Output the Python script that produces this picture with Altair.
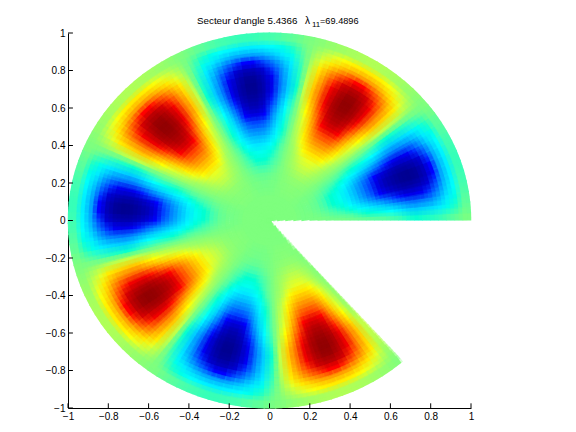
import math
import altair as alt
import pandas as pd

TITLE_MAIN = ["Secteur d'angle 5.4366"]
TITLE_LAMBDA = ["\u03bb"]
TITLE_SUB = ["11"]
TITLE_VALUE = ["=69.4896"]
SECTOR_DEG = 311.49
TICKS = [-1, -0.8, -0.6, -0.4, -0.2, 0, 0.2, 0.4, 0.6, 0.8, 1]

RADII = [0.02, 0.06, 0.10, 0.14, 0.18, 0.22, 0.26, 0.30, 0.34, 0.38, 0.42, 0.46, 0.50,
         0.54, 0.58, 0.62, 0.66, 0.70, 0.74, 0.78, 0.82, 0.86, 0.90, 0.94, 0.98]

r02 = [0] * 16
r06 = [0] * 16
r10 = [0] * 16
r14 = [0, 0, 0, 0, 0, 0, 0, 0, 0, 0, 0, 0, 0, 0, 0, 0]
r18 = [-1, -1, 1, 1, -1, -1, 1, 1, -1, -1, 1, 1, -1, -1, 1, 1]
r22 = [-1,-1,-2,-2,-1,-1, 1,1,2,2,1,1, -1,-1,-2,-2,-1,-1, 1,1,2,2,1,1,
       -1,-1,-2,-2,-1,-1, 1,1,2,2,1,1, -1,-1,-2,-2,-1,-1, 1,1,2,2,1,1]
r26 = [-1,-3,-4,-4,-3,-1, 1,3,4,4,3,1, -1,-3,-4,-4,-3,-1, 1,3,4,4,3,1,
       -1,-3,-4,-4,-3,-1, 1,3,4,4,3,1, -1,-3,-4,-4,-3,-1, 1,3,4,4,3,1]
r30 = [-2,-6,-9,-9,-6,-2, 2,6,9,9,6,2, -2,-6,-9,-9,-6,-2, 2,6,9,9,6,2,
       -2,-6,-9,-9,-6,-2, 2,6,9,9,6,2, -2,-6,-9,-9,-6,-2, 2,6,9,9,6,2]
r34 = [-2,-5,-8,-11,-14,-15,-15,-14,-11,-8,-5,-2, 2,5,8,11,14,15,15,14,11,8,5,2,
       -2,-5,-8,-11,-14,-15,-15,-14,-11,-8,-5,-2, 2,5,8,11,14,15,15,14,11,8,5,2,
       -2,-5,-8,-11,-14,-15,-15,-14,-11,-8,-5,-2, 2,5,8,11,14,15,15,14,11,8,5,2,
       -2,-5,-8,-11,-14,-15,-15,-14,-11,-8,-5,-2, 2,5,8,11,14,15,15,14,11,8,5,2]
r38 = [-2,-6,-11,-16,-19,-21,-21,-19,-16,-11,-6,-2, 2,6,11,16,19,21,21,19,16,11,6,2,
       -2,-6,-11,-16,-19,-21,-21,-19,-16,-11,-6,-2, 2,6,11,16,19,21,21,19,16,11,6,2,
       -2,-6,-11,-16,-19,-21,-21,-19,-16,-11,-6,-2, 2,6,11,16,19,21,21,19,16,11,6,2,
       -2,-6,-11,-16,-19,-21,-21,-19,-16,-11,-6,-2, 2,6,11,16,19,21,21,19,16,11,6,2]
r42 = [-3,-8,-16,-24,-30,-32,-32,-30,-24,-16,-8,-3, 3,8,16,24,30,32,32,30,24,16,8,3,
       -3,-8,-16,-24,-30,-32,-32,-30,-24,-16,-8,-3, 3,8,16,24,30,32,32,30,24,16,8,3,
       -3,-8,-16,-24,-30,-32,-32,-30,-24,-16,-8,-3, 3,8,16,24,30,32,32,30,24,16,8,3,
       -3,-8,-16,-24,-30,-32,-32,-30,-24,-16,-8,-3, 3,8,16,24,30,32,32,30,24,16,8,3]
r46 = [-4,-12,-23,-34,-42,-45,-45,-42,-34,-23,-12,-4, 4,12,23,34,42,45,45,42,34,23,12,4,
       -4,-12,-23,-34,-42,-45,-45,-42,-34,-23,-12,-4, 4,12,23,34,42,45,45,42,34,23,12,4,
       -4,-12,-23,-34,-42,-45,-45,-42,-34,-23,-12,-4, 4,12,23,34,42,45,45,42,34,23,12,4,
       -4,-12,-23,-34,-42,-45,-45,-42,-34,-23,-12,-4, 4,12,23,34,42,45,45,42,34,23,12,4]
r50 = [-5,-15,-29,-44,-55,-58,-58,-55,-44,-29,-15,-5, 5,15,29,44,55,58,58,55,44,29,15,5,
       -5,-15,-29,-44,-55,-58,-58,-55,-44,-29,-15,-5, 5,15,29,44,55,58,58,55,44,29,15,5,
       -5,-15,-29,-44,-55,-58,-58,-55,-44,-29,-15,-5, 5,15,29,44,55,58,58,55,44,29,15,5,
       -5,-15,-29,-44,-55,-58,-58,-55,-44,-29,-15,-5, 5,15,29,44,55,58,58,55,44,29,15,5]
r54 = [-6,-18,-35,-53,-66,-70,-70,-66,-53,-35,-18,-6, 6,18,35,53,66,70,70,66,53,35,18,6,
       -6,-18,-35,-53,-66,-70,-70,-66,-53,-35,-18,-6, 6,18,35,53,66,70,70,66,53,35,18,6,
       -6,-18,-35,-53,-66,-70,-70,-66,-53,-35,-18,-6, 6,18,35,53,66,70,70,66,53,35,18,6,
       -6,-18,-35,-53,-66,-70,-70,-66,-53,-35,-18,-6, 6,18,35,53,66,70,70,66,53,35,18,6]
r58 = [-6,-21,-40,-61,-75,-80,-80,-75,-61,-40,-21,-6, 6,21,40,61,75,80,80,75,61,40,21,6,
       -6,-21,-40,-61,-75,-80,-80,-75,-61,-40,-21,-6, 6,21,40,61,75,80,80,75,61,40,21,6,
       -6,-21,-40,-61,-75,-80,-80,-75,-61,-40,-21,-6, 6,21,40,61,75,80,80,75,61,40,21,6,
       -6,-21,-40,-61,-75,-80,-80,-75,-61,-40,-21,-6, 6,21,40,61,75,80,80,75,61,40,21,6]
r62 = [-8,-25,-47,-68,-82,-88,-88,-82,-68,-47,-25,-8, 8,25,47,68,82,88,88,82,68,47,25,8,
       -8,-25,-47,-68,-82,-88,-88,-82,-68,-47,-25,-8, 8,25,47,68,82,88,88,82,68,47,25,8,
       -8,-25,-47,-68,-82,-88,-88,-82,-68,-47,-25,-8, 8,25,47,68,82,88,88,82,68,47,25,8,
       -8,-25,-47,-68,-82,-88,-88,-82,-68,-47,-25,-8, 8,25,47,68,82,88,88,82,68,47,25,8]
r66 = [-10,-31,-54,-74,-87,-92,-92,-87,-74,-54,-31,-10, 10,31,54,74,87,92,92,87,74,54,31,10,
       -10,-31,-54,-74,-87,-92,-92,-87,-74,-54,-31,-10, 10,31,54,74,87,92,92,87,74,54,31,10,
       -10,-31,-54,-74,-87,-92,-92,-87,-74,-54,-31,-10, 10,31,54,74,87,92,92,87,74,54,31,10,
       -10,-31,-54,-74,-87,-92,-92,-87,-74,-54,-31,-10, 10,31,54,74,87,92,92,87,74,54,31,10]
r70 = [-13,-38,-60,-78,-90,-95,-95,-90,-78,-60,-38,-13, 13,38,60,78,90,95,95,90,78,60,38,13,
       -13,-38,-60,-78,-90,-95,-95,-90,-78,-60,-38,-13, 13,38,60,78,90,95,95,90,78,60,38,13,
       -13,-38,-60,-78,-90,-95,-95,-90,-78,-60,-38,-13, 13,38,60,78,90,95,95,90,78,60,38,13,
       -13,-38,-60,-78,-90,-95,-95,-90,-78,-60,-38,-13, 13,38,60,78,90,95,95,90,78,60,38,13]
r74 = [-14,-40,-62,-79,-90,-96,-96,-90,-79,-62,-40,-14, 14,40,62,79,90,96,96,90,79,62,40,14,
       -14,-40,-62,-79,-90,-96,-96,-90,-79,-62,-40,-14, 14,40,62,79,90,96,96,90,79,62,40,14,
       -14,-40,-62,-79,-90,-96,-96,-90,-79,-62,-40,-14, 14,40,62,79,90,96,96,90,79,62,40,14,
       -14,-40,-62,-79,-90,-96,-96,-90,-79,-62,-40,-14, 14,40,62,79,90,96,96,90,79,62,40,14]
r78 = [-13,-38,-60,-77,-88,-94,-94,-88,-77,-60,-38,-13, 13,38,60,77,88,94,94,88,77,60,38,13,
       -13,-38,-60,-77,-88,-94,-94,-88,-77,-60,-38,-13, 13,38,60,77,88,94,94,88,77,60,38,13,
       -13,-38,-60,-77,-88,-94,-94,-88,-77,-60,-38,-13, 13,38,60,77,88,94,94,88,77,60,38,13,
       -13,-38,-60,-77,-88,-94,-94,-88,-77,-60,-38,-13, 13,38,60,77,88,94,94,88,77,60,38,13]
r82 = [-12,-35,-56,-72,-83,-88,-88,-83,-72,-56,-35,-12, 12,35,56,72,83,88,88,83,72,56,35,12,
       -12,-35,-56,-72,-83,-88,-88,-83,-72,-56,-35,-12, 12,35,56,72,83,88,88,83,72,56,35,12,
       -12,-35,-56,-72,-83,-88,-88,-83,-72,-56,-35,-12, 12,35,56,72,83,88,88,83,72,56,35,12,
       -12,-35,-56,-72,-83,-88,-88,-83,-72,-56,-35,-12, 12,35,56,72,83,88,88,83,72,56,35,12]
r86 = [-10,-30,-46,-60,-70,-75,-75,-70,-60,-46,-30,-10, 10,30,46,60,70,75,75,70,60,46,30,10,
       -10,-30,-46,-60,-70,-75,-75,-70,-60,-46,-30,-10, 10,30,46,60,70,75,75,70,60,46,30,10,
       -10,-30,-46,-60,-70,-75,-75,-70,-60,-46,-30,-10, 10,30,46,60,70,75,75,70,60,46,30,10,
       -10,-30,-46,-60,-70,-75,-75,-70,-60,-46,-30,-10, 10,30,46,60,70,75,75,70,60,46,30,10]
r90 = [-7,-20,-31,-40,-47,-50,-50,-47,-40,-31,-20,-7, 7,20,31,40,47,50,50,47,40,31,20,7,
       -7,-20,-31,-40,-47,-50,-50,-47,-40,-31,-20,-7, 7,20,31,40,47,50,50,47,40,31,20,7,
       -7,-20,-31,-40,-47,-50,-50,-47,-40,-31,-20,-7, 7,20,31,40,47,50,50,47,40,31,20,7,
       -7,-20,-31,-40,-47,-50,-50,-47,-40,-31,-20,-7, 7,20,31,40,47,50,50,47,40,31,20,7]
r94 = [-4,-12,-19,-24,-28,-30,-30,-28,-24,-19,-12,-4, 4,12,19,24,28,30,30,28,24,19,12,4,
       -4,-12,-19,-24,-28,-30,-30,-28,-24,-19,-12,-4, 4,12,19,24,28,30,30,28,24,19,12,4,
       -4,-12,-19,-24,-28,-30,-30,-28,-24,-19,-12,-4, 4,12,19,24,28,30,30,28,24,19,12,4,
       -4,-12,-19,-24,-28,-30,-30,-28,-24,-19,-12,-4, 4,12,19,24,28,30,30,28,24,19,12,4]
r98 = [-1,-4,-6,-8,-9,-10,-10,-9,-8,-6,-4,-1, 1,4,6,8,9,10,10,9,8,6,4,1,
       -1,-4,-6,-8,-9,-10,-10,-9,-8,-6,-4,-1, 1,4,6,8,9,10,10,9,8,6,4,1,
       -1,-4,-6,-8,-9,-10,-10,-9,-8,-6,-4,-1, 1,4,6,8,9,10,10,9,8,6,4,1,
       -1,-4,-6,-8,-9,-10,-10,-9,-8,-6,-4,-1, 1,4,6,8,9,10,10,9,8,6,4,1]

RINGS = [r02, r06, r10, r14, r18, r22, r26, r30, r34, r38, r42, r46, r50,
         r54, r58, r62, r66, r70, r74, r78, r82, r86, r90, r94, r98]

JET_STOPS = [-100, -75, -25, 0, 25, 75, 100]
JET_COLORS = ["#00007f", "#0000ff", "#00ffff", "#7fff7f", "#ffff00", "#ff0000", "#7f0000"]
HALF_WIDTH = 0.0215
PASSES = [(1.0, 0.0, -0.25), (0.5, -0.02, 0.25), (0.3333, 0.0, 0.25), (0.25, -0.02, -0.25)]


def cell_rows(dr, shift):
    rows = []
    for r0, ring in zip(RADII, RINGS):
        r = max(0.015, r0 + dr)
        step = SECTOR_DEG / len(ring)
        extra = 0.5 * step * HALF_WIDTH / r + 0.2
        for i, v in enumerate(ring):
            a1 = math.radians(max(0.0, (i + shift) * step - extra))
            a2 = math.radians(min(SECTOR_DEG, (i + 1 + shift) * step + extra))
            rows.append({"x": r * math.cos(a1), "y": r * math.sin(a1),
                         "x2": r * math.cos(a2), "y2": r * math.sin(a2), "v": v})
    return pd.DataFrame(rows)


x_scale = alt.Scale(domain=[-1, 1], nice=False, zero=False)
y_scale = alt.Scale(domain=[-1, 1], nice=False, zero=False)
x_axis = alt.Axis(
    values=TICKS, format="~g", title=None, grid=False, ticks=False, labelFont="Liberation Sans",
    labelFontSize=10, labelColor="black", domainColor="black", labelPadding=3,
    labelFlush=False, labelOverlap=False)
y_axis = alt.Axis(
    values=TICKS, format="~g", title=None, grid=False, ticks=False, labelFont="Liberation Sans",
    labelFontSize=10, labelColor="black", domainColor="black", labelPadding=3,
    labelFlush=False, labelOverlap=False)
x_enc = alt.X("x:Q", scale=x_scale, axis=x_axis)
y_enc = alt.Y("y:Q", scale=y_scale, axis=y_axis)
color_enc = alt.Color("v:Q", legend=None, scale=alt.Scale(domain=JET_STOPS, range=JET_COLORS, clamp=True))

passes = [
    alt.Chart(cell_rows(dr, shift)).mark_rule(strokeWidth=8.6, strokeCap="butt", opacity=op).encode(
        x=x_enc, y=y_enc, x2="x2:Q", y2="y2:Q", color=color_enc)
    for op, dr, shift in PASSES
]

tx = pd.DataFrame({"t": TICKS})
x_ticks = alt.Chart(tx).transform_calculate(a="-1", b="-0.975").mark_rule(color="black").encode(
    x=alt.X("t:Q", scale=x_scale, axis=x_axis), y=alt.Y("a:Q", scale=y_scale, axis=y_axis), y2="b:Q")
y_ticks = alt.Chart(tx).transform_calculate(a="-1", b="-0.9755").mark_rule(color="black").encode(
    y=alt.Y("t:Q", scale=y_scale, axis=y_axis), x=alt.X("a:Q", scale=x_scale, axis=x_axis), x2="b:Q")


def label(values, px, py, size, align="left"):
    return alt.Chart(pd.DataFrame({"s": values})).mark_text(
        font="Liberation Sans", fontSize=size, color="black", align=align, baseline="middle"
    ).encode(text="s:N", x=alt.value(px), y=alt.value(py))


chart = alt.layer(
    *passes, x_ticks, y_ticks,
    label(TITLE_MAIN, 129, -12, 9.8),
    label(TITLE_LAMBDA, 237, -12, 10),
    label(TITLE_SUB, 244, -8, 8),
    label(TITLE_VALUE, 252, -12, 9.2),
).properties(
    width=403, height=375,
    autosize=alt.AutoSizeParams(type="none"),
    padding={"left": 60, "top": 25, "right": 40, "bottom": 16},
).configure_view(stroke=None)

chart.save("out.html", embed_options={"renderer": "svg", "actions": False})
